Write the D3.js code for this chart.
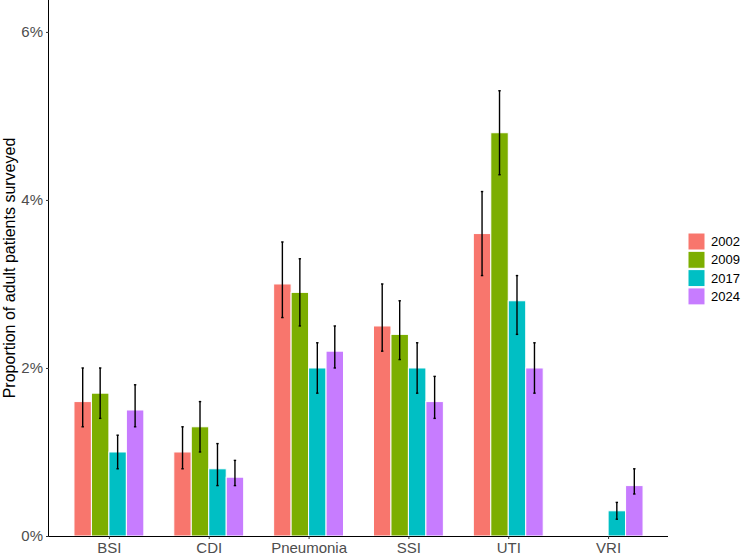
<!DOCTYPE html>
<html>
<head>
<meta charset="utf-8">
<script src="https://cdn.jsdelivr.net/npm/d3@7"></script>
<style>
  body { margin: 0; background: #fff; }
  text { font-family: "Liberation Sans", Arial, sans-serif; }
</style>
</head>
<body>
<div id="chart"></div>
<script>
// Chart data
var infections = ["BSI", "CDI", "Pneumonia", "SSI", "UTI", "VRI"];
var years = ["2002", "2009", "2017", "2024"];
var yearColors = ["#F8766D", "#7CAE00", "#00BFC4", "#C77CFF"];
var yTicks = [0, 2, 4, 6];

// proportion (%) per infection, one array per year (null = not surveyed)
var values = {
  "2002": [1.6, 1.0, 3.0, 2.5, 3.6, null],
  "2009": [1.7, 1.3, 2.9, 2.4, 4.8, null],
  "2017": [1.0, 0.8, 2.0, 2.0, 2.8, 0.3],
  "2024": [1.5, 0.7, 2.2, 1.6, 2.0, 0.6]
};
var lower = {
  "2002": [1.3, 0.8, 2.6, 2.2, 3.1, null],
  "2009": [1.4, 1.0, 2.5, 2.1, 4.3, null],
  "2017": [0.8, 0.6, 1.7, 1.7, 2.4, 0.2],
  "2024": [1.3, 0.6, 2.0, 1.4, 1.7, 0.5]
};
var upper = {
  "2002": [2.0, 1.3, 3.5, 3.0, 4.1, null],
  "2009": [2.0, 1.6, 3.3, 2.8, 5.3, null],
  "2017": [1.2, 1.1, 2.3, 2.3, 3.1, 0.4],
  "2024": [1.8, 0.9, 2.5, 1.9, 2.3, 0.8]
};

var svgWidth = 741;
var svgHeight = 555;
var margin = { top: 0, right: 73, bottom: 19, left: 49 };
var chartWidth = svgWidth - margin.left - margin.right;
var chartHeight = svgHeight - margin.top - margin.bottom;

var svg = d3.select("#chart").append("svg")
  .attr("width", svgWidth)
  .attr("height", svgHeight);

var chartGroup = svg.append("g")
  .attr("transform", `translate(${margin.left}, ${margin.top})`);

// flatten to rows
var rows = [];
infections.forEach(function(inf, i) {
  years.forEach(function(yr) {
    if (values[yr][i] !== null) {
      rows.push({ inf: inf, year: yr, value: values[yr][i], lo: lower[yr][i], hi: upper[yr][i] });
    }
  });
});

// scales (ggplot-style discrete expansion of 0.6 units)
var step = chartWidth / (infections.length - 1 + 1.2);
var xCenter = d3.scalePoint()
  .domain(infections)
  .range([0.6 * step, chartWidth - 0.6 * step]);

var xYear = d3.scaleBand()
  .domain(years)
  .range([-0.35 * step, 0.35 * step])
  .padding(0);

var y = d3.scaleLinear()
  .domain([0, 6.38])
  .range([chartHeight, 0]);

var color = d3.scaleOrdinal().domain(years).range(yearColors);

// bars
chartGroup.selectAll("rect.bar")
  .data(rows)
  .enter()
  .append("rect")
  .attr("class", "bar")
  .attr("x", d => xCenter(d.inf) + xYear(d.year))
  .attr("width", xYear.bandwidth())
  .attr("y", d => y(d.value))
  .attr("height", d => y(0) - y(d.value))
  .attr("fill", d => color(d.year))
  .attr("stroke", "#fff")
  .attr("stroke-width", 1);

// error bars
var errGroup = chartGroup.selectAll("g.err")
  .data(rows)
  .enter()
  .append("g")
  .attr("class", "err")
  .attr("transform", d => `translate(${xCenter(d.inf) + xYear(d.year) + xYear.bandwidth() / 2}, 0)`);

errGroup.append("line")
  .attr("x1", 0).attr("x2", 0)
  .attr("y1", d => y(d.lo))
  .attr("y2", d => y(d.hi))
  .attr("stroke", "#000")
  .attr("stroke-width", 1.4);

errGroup.append("line")
  .attr("x1", -1.2).attr("x2", 1.2)
  .attr("y1", d => y(d.hi)).attr("y2", d => y(d.hi))
  .attr("stroke", "#000")
  .attr("stroke-width", 1.4);

errGroup.append("line")
  .attr("x1", -1.2).attr("x2", 1.2)
  .attr("y1", d => y(d.lo)).attr("y2", d => y(d.lo))
  .attr("stroke", "#000")
  .attr("stroke-width", 1.4);

// axes
var xAxis = d3.axisBottom(xCenter).tickSize(3).tickPadding(3);
var yAxis = d3.axisLeft(y).tickValues(yTicks).tickFormat(d => d + "%").tickSize(3).tickPadding(3);

var xg = chartGroup.append("g")
  .attr("transform", `translate(0, ${chartHeight})`)
  .call(xAxis);
xg.select(".domain").attr("d", `M0,0.5H${chartWidth}`).attr("stroke", "#000");
xg.selectAll(".tick line").attr("stroke", "#333");
xg.selectAll(".tick text")
  .attr("fill", "#4d4d4d")
  .style("font-size", "15px")
  .style("font-family", "'Liberation Sans', Arial, sans-serif");

var yg = chartGroup.append("g")
  .call(yAxis);
yg.select(".domain").attr("d", `M-0.5,${chartHeight}V0`).attr("stroke", "#000");
yg.selectAll(".tick line").attr("stroke", "#333");
yg.selectAll(".tick text")
  .attr("fill", "#4d4d4d")
  .style("font-size", "15px")
  .style("font-family", "'Liberation Sans', Arial, sans-serif");

// y axis title
svg.append("text")
  .attr("transform", `translate(15, ${margin.top + chartHeight / 2}) rotate(-90)`)
  .attr("text-anchor", "middle")
  .style("font-size", "16px")
  .attr("fill", "#000")
  .text("Proportion of adult patients surveyed");

// legend
var legend = svg.append("g")
  .attr("transform", "translate(688, 233)");

var legendItems = legend.selectAll("g")
  .data(years)
  .enter()
  .append("g")
  .attr("transform", (d, i) => `translate(0, ${i * 18.3})`);

legendItems.append("rect")
  .attr("width", 17)
  .attr("height", 17)
  .attr("fill", d => color(d))
  .attr("stroke", "#fff")
  .attr("stroke-width", 1);

legendItems.append("text")
  .attr("x", 23)
  .attr("y", 8.5)
  .attr("dy", "0.35em")
  .style("font-size", "13px")
  .attr("fill", "#000")
  .text(d => d);
</script>
</body>
</html>
